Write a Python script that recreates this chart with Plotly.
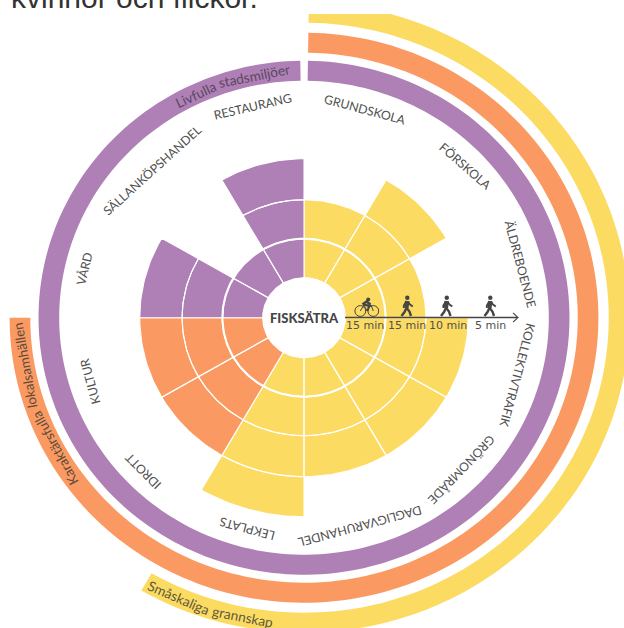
import math
import plotly.graph_objects as go

# ---- data ----
CATEGORIES = ["GRUNDSKOLA", "FÖRSKOLA", "ÄLDREBOENDE", "KOLLEKTIVTRAFIK", "GRÖNOMRÅDE",
              "DAGLIGVARUHANDEL", "LEKPLATS", "IDROTT", "KULTUR", "VÅRD",
              "SÄLLANKÖPSHANDEL", "RESTAURANG"]
BANDS_REACHED = [2, 3, 2, 3, 3, 3, 4, 3, 3, 3, 1, 3]
GROUP_OF = ["yellow"] * 7 + ["orange"] * 2 + ["purple"] * 3
RING_RADII = [40, 79, 118, 159, 199]
MINUTES = ["15 min", "15 min", "10 min", "5 min"]

W, H = 624, 628
CX, CY, SX = 304.0, 317.7, 1.033
COL = {"yellow": "#FCDB62", "orange": "#FA9A62", "purple": "#AF80B6"}
DARK = "#505050"

# label placement: angle round the circle, radius, text rotation
LABEL_PLACE = [(15.8, 216, 15), (46, 217, 41), (75.8, 216, 75), (105.5, 214, 105),
               (135, 215, 134), (165.6, 215, 165), (194.6, 218, -165), (225.5, 219, -135),
               (253, 217, -105), (283, 218, -77), (315, 208, -42), (346.7, 217, -13)]


def px(x):
    return x / W


def py(y):
    return 1 - y / H


def pol(r, deg):
    t = math.radians(deg)
    return r * math.sin(t), r * math.cos(t)


def arc(r, a, b):
    n = max(3, int(abs(b - a) / 1.5) + 1)
    return [pol(r, a + (b - a) * i / n) for i in range(n + 1)]


def band(r0, r1, a, b):
    pts = arc(r1, a, b) + arc(r0, b, a)
    pts.append(pts[0])
    return pts


def paper_point(r, deg):
    x, y = pol(r, deg)
    return px(CX + x * SX), py(CY - y)


fig = go.Figure()

# sector cells
step = 360 / len(CATEGORIES)
for group in ["yellow", "orange", "purple"]:
    xs, ys = [], []
    for i, (reach, g) in enumerate(zip(BANDS_REACHED, GROUP_OF)):
        if g != group:
            continue
        for k in range(reach):
            for x, y in band(RING_RADII[k], RING_RADII[k + 1], i * step, (i + 1) * step):
                xs.append(x)
                ys.append(y)
            xs.append(None)
            ys.append(None)
    fig.add_trace(go.Scatter(x=xs, y=ys, mode="lines", fill="toself", fillcolor=COL[group],
                             line=dict(color="white", width=1.1), hoverinfo="skip"))

# heavier first ring
ring = arc(RING_RADII[1], 0, 360)
fig.add_trace(go.Scatter(x=[p[0] for p in ring], y=[p[1] for p in ring], mode="lines",
                         line=dict(color="white", width=2.1), hoverinfo="skip"))

# outer theme bands
GAP = 0.85
for (r0, r1, a, b, g) in [(237, 257, GAP, 359.2, "purple"),
                          (265, 285, GAP, 270, "orange"),
                          (295, 315, GAP, 210, "yellow")]:
    pts = band(r0, r1, a, b)
    fig.add_trace(go.Scatter(x=[p[0] for p in pts], y=[p[1] for p in pts], mode="none",
                             fill="toself", fillcolor=COL[g], hoverinfo="skip"))

ann = []


def text(x, y, s, size, color=DARK, angle=0, family="Lato", weight=None):
    font = dict(size=size, color=color, family=family)
    if weight:
        font["weight"] = weight
    ann.append(dict(x=x, y=y, xref="paper", yref="paper", text=s, showarrow=False,
                    font=font, textangle=angle, xanchor="center", yanchor="middle"))


# category labels
for c, (th, r, ang) in zip(CATEGORIES, LABEL_PLACE):
    x, y = paper_point(r, th)
    text(x, y, c, 12.3, angle=ang)

# theme labels, word by word along their bands
for word, r, th, ang, col, size in [
    ("Livfulla", 247, -25.2, -25.2, "#5B4763", 13.7),
    ("stadsmiljöer", 247, -11.2, -11.2, "#5B4763", 13.7),
    ("Karaktärsfulla", 274, 241.6, -118.4, "#5E4A3A", 13.5),
    ("lokalsamhällen", 274, 260.0, -100, "#5E4A3A", 13.5),
    ("Småskaliga", 305, 203.4, 23.4, "#5E5A3C", 13.7),
    ("grannskap", 305, 191.2, 11.2, "#5E5A3C", 13.7),
]:
    x, y = paper_point(r, th)
    text(x, y, word, size, color=col, angle=ang)

text(px(304.5), py(318), "FISKSÄTRA", 13, color="#454545", weight=900)

for label, x in zip(MINUTES, [365, 407, 448, 490]):
    text(px(x), py(325), label, 11, color="#505050", family="DejaVu Sans")

# heading, cut off by the top of the page as in the reference
ann.append(dict(x=px(9), y=py(16), xref="paper", yref="paper", text="kvinnor och flickor.",
                showarrow=False, xanchor="left", yanchor="bottom",
                font=dict(size=30, color="#333333", family="Liberation Sans")))

shapes = [dict(type="rect", xref="paper", yref="paper", x0=0, x1=1, y0=py(14), y1=1.02,
               fillcolor="white", line=dict(width=0), layer="above")]


def path(points):
    return "M" + " L".join(f"{px(x):.5f},{py(y):.5f}" for x, y in points)


def stroke(points, w=1.5, color="#454545"):
    shapes.append(dict(type="path", xref="paper", yref="paper", path=path(points),
                       line=dict(color=color, width=w), layer="above"))


def circle(x, y, r, fill=None, w=1.0):
    shapes.append(dict(type="circle", xref="paper", yref="paper",
                       x0=px(x - r), x1=px(x + r), y0=py(y + r), y1=py(y - r),
                       fillcolor=fill or "rgba(0,0,0,0)",
                       line=dict(color="#454545", width=w if fill is None else 0),
                       layer="above"))


# time arrow
stroke([(345, 317.5), (517, 317.5)], 1.3)
stroke([(513, 312.8), (518, 317.5), (513, 322.2)], 1.1)


def walker(x, base=316):
    circle(x + 0.3, base - 18.2, 2.2, fill="#454545")
    stroke([(x + 0.2, base - 15), (x - 0.6, base - 8)], 4.4)
    stroke([(x - 0.6, base - 8), (x - 2.5, base - 4), (x - 5.5, base)], 2.4)
    stroke([(x - 0.4, base - 8), (x + 2.5, base - 4.5), (x + 4, base)], 2.4)
    stroke([(x + 1, base - 14.5), (x + 3, base - 11.5), (x + 5.8, base - 9.5)], 1.8)
    stroke([(x - 1, base - 14), (x - 3.2, base - 10.5), (x - 3.2, base - 8)], 1.8)


for wx in [407, 446.5, 490]:
    walker(wx)

# bicycle
circle(360.3, 311, 5.4)
circle(373.3, 311, 5.4)
circle(368.2, 299.5, 2.0, fill="#454545")
stroke([(360.3, 311), (364, 305), (371, 305), (373.3, 311)], 1.0)
stroke([(364, 305), (367, 311), (371, 305)], 1.0)
stroke([(362.5, 304.5), (366.5, 301.5), (370.5, 304.5)], 2.6)
stroke([(364, 304.5), (369, 306), (367.5, 311)], 2.0)

fig.update_layout(
    width=W, height=H, margin=dict(l=0, r=0, t=0, b=0), showlegend=False,
    paper_bgcolor="white", plot_bgcolor="white",
    xaxis=dict(range=[-CX / SX, (W - CX) / SX], visible=False, fixedrange=True),
    yaxis=dict(range=[CY - H, CY], visible=False, fixedrange=True),
    annotations=ann, shapes=shapes,
)
fig.write_html("out.html", config={"displayModeBar": False},
               post_script="document.body.style.margin='0';document.documentElement.style.overflow='hidden';")
